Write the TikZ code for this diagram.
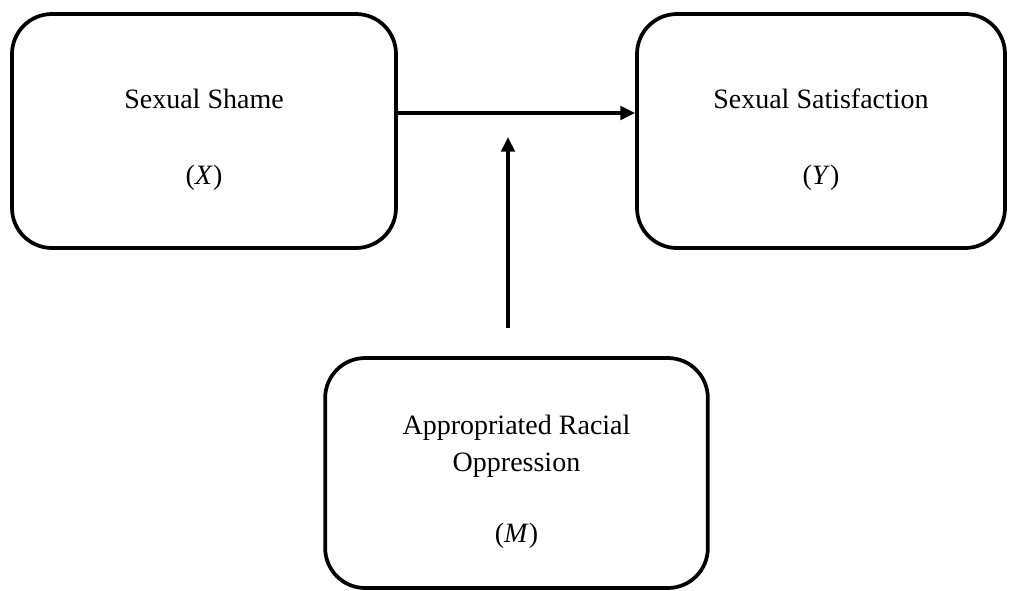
\documentclass[tikz,border=0pt]{standalone}
\usepackage{fontspec}
\setmainfont{Liberation Serif}
\usetikzlibrary{arrows.meta}

\newcommand{\topgap}{\rule{0pt}{28pt}}

\begin{document}
\begin{tikzpicture}[x=0.75pt,y=-0.75pt,
  var/.style={draw,rectangle,rounded corners=30pt,line width=2.8pt,align=center,
    font=\fontsize{21}{27.75}\selectfont,inner sep=0pt},
  path/.style={line width=2.7pt,-{Triangle[length=11pt,width=10pt]}}]
\useasboundingbox (0,0) rectangle (1009,590);
\node[var,minimum width=288pt,minimum height=175.5pt] (shame) at (204,131) {\topgap Sexual Shame\\[29.5pt](\textit{X})} ;
\node[var,minimum width=276pt,minimum height=175.5pt] (satis) at (821,131) {\topgap Sexual Satisfaction\\[29.5pt](\textit{Y})} ;
\node[var,minimum width=287pt,minimum height=172.5pt] (racial) at (516.5,473) {\topgap Appropriated Racial\\Oppression\\[25.5pt](\textit{M})} ;
\coordinate (tail) at (508,328) ;
\coordinate (tip) at (508,137) ;
\draw[path] ([yshift=13.5pt]shame.east) to ([yshift=13.5pt]satis.west) ;
\draw[path] (tail) to (tip) ;
\end{tikzpicture}
\end{document}
